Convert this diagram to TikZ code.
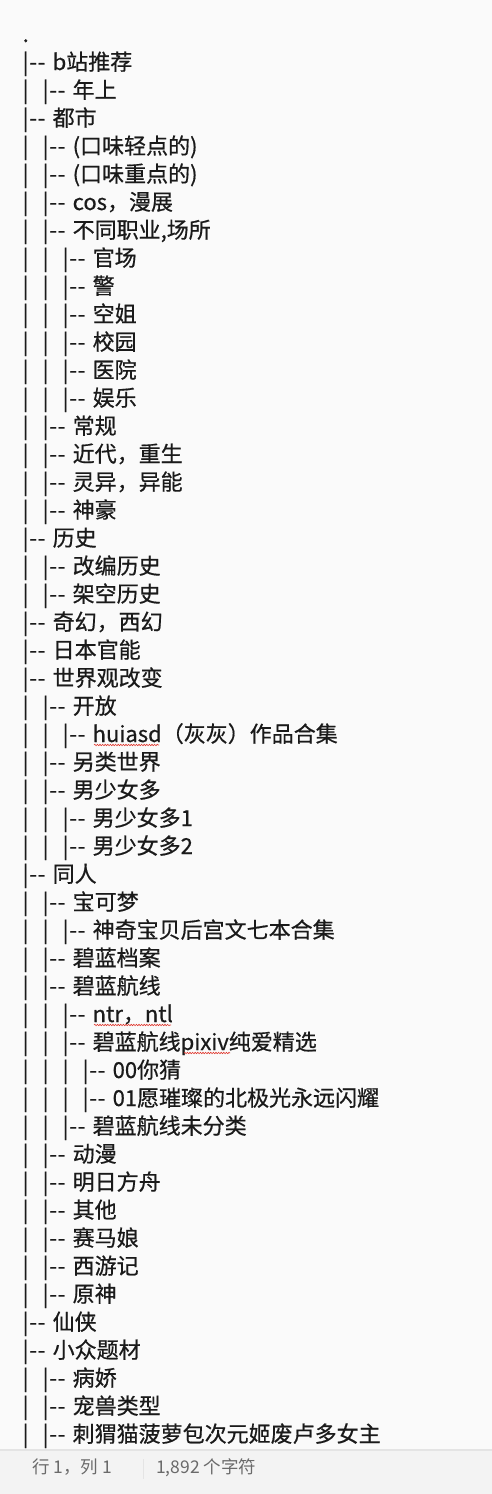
\documentclass[tikz,border=0pt]{standalone}
\usepackage{fontspec}
\newfontfamily\cjk[FakeBold=0.6]{Noto Sans CJK SC}
\newfontfamily\cjkst{Noto Sans CJK SC}
\usetikzlibrary{decorations.pathmorphing}
\definecolor{bgc}{HTML}{FAFAFA}
\definecolor{txt}{HTML}{1A1A1A}
\definecolor{barbg}{HTML}{F3F3F3}
\definecolor{barline}{HTML}{E4E4E4}
\definecolor{bartxt}{HTML}{6A6A6A}
\definecolor{sq}{HTML}{E0352B}
\newcommand\pp{\makebox[20pt][l]{|}}
\newcommand\br{\makebox[30pt][l]{|\hspace{0.8pt}-\hspace{0.6pt}-}}
\tikzset{
  tl/.style={anchor=base west, inner sep=0pt, font=\cjk\fontsize{22}{26}\selectfont, text=txt},
  st/.style={anchor=base west, inner sep=0pt, font=\cjkst\fontsize{17.5}{20}\selectfont, text=bartxt},
  squig/.style={draw=sq, line width=0.6pt, decorate, decoration={snake, amplitude=0.7pt, segment length=2.6pt}}
}
\newcommand\TL[3]{\node[tl] (#1) at (22.5pt,{-(42+28*#2)*1pt}) {#3};}
\begin{document}
\begin{tikzpicture}
\useasboundingbox (0,0) rectangle (492pt,-1494pt);
\fill[bgc] (0,0) rectangle (492pt,-1494pt);
\TL{l0}{0}{.}
\TL{l1}{1}{\br b站推荐}
\TL{l2}{2}{\pp\br 年上}
\TL{l3}{3}{\br 都市}
\TL{l4}{4}{\pp\br (口味轻点的)}
\TL{l5}{5}{\pp\br (口味重点的)}
\TL{l6}{6}{\pp\br cos，漫展}
\TL{l7}{7}{\pp\br 不同职业,场所}
\TL{l8}{8}{\pp\pp\br 官场}
\TL{l9}{9}{\pp\pp\br 警}
\TL{l10}{10}{\pp\pp\br 空姐}
\TL{l11}{11}{\pp\pp\br 校园}
\TL{l12}{12}{\pp\pp\br 医院}
\TL{l13}{13}{\pp\pp\br 娱乐}
\TL{l14}{14}{\pp\br 常规}
\TL{l15}{15}{\pp\br 近代，重生}
\TL{l16}{16}{\pp\br 灵异，异能}
\TL{l17}{17}{\pp\br 神豪}
\TL{l18}{18}{\br 历史}
\TL{l19}{19}{\pp\br 改编历史}
\TL{l20}{20}{\pp\br 架空历史}
\TL{l21}{21}{\br 奇幻，西幻}
\TL{l22}{22}{\br 日本官能}
\TL{l23}{23}{\br 世界观改变}
\TL{l24}{24}{\pp\br 开放}
\TL{l25}{25}{\pp\pp\br huiasd（灰灰）作品合集}
\TL{l26}{26}{\pp\br 另类世界}
\TL{l27}{27}{\pp\br 男少女多}
\TL{l28}{28}{\pp\pp\br 男少女多1}
\TL{l29}{29}{\pp\pp\br 男少女多2}
\TL{l30}{30}{\br 同人}
\TL{l31}{31}{\pp\br 宝可梦}
\TL{l32}{32}{\pp\pp\br 神奇宝贝后宫文七本合集}
\TL{l33}{33}{\pp\br 碧蓝档案}
\TL{l34}{34}{\pp\br 碧蓝航线}
\TL{l35}{35}{\pp\pp\br ntr，ntl}
\TL{l36}{36}{\pp\pp\br 碧蓝航线pixiv纯爱精选}
\TL{l37}{37}{\pp\pp\pp\br 00你猜}
\TL{l38}{38}{\pp\pp\pp\br 01愿璀璨的北极光永远闪耀}
\TL{l39}{39}{\pp\pp\br 碧蓝航线未分类}
\TL{l40}{40}{\pp\br 动漫}
\TL{l41}{41}{\pp\br 明日方舟}
\TL{l42}{42}{\pp\br 其他}
\TL{l43}{43}{\pp\br 赛马娘}
\TL{l44}{44}{\pp\br 西游记}
\TL{l45}{45}{\pp\br 原神}
\TL{l46}{46}{\br 仙侠}
\TL{l47}{47}{\br 小众题材}
\TL{l48}{48}{\pp\br 病娇}
\TL{l49}{49}{\pp\br 宠兽类型}
\TL{l50}{50}{\pp\br 刺猬猫菠萝包次元姬废卢多女主}
% spell-check squiggles
\draw[squig] (94pt,-745pt) -- (159pt,-745pt);
\draw[squig] (94pt,-1025pt) -- (171pt,-1025pt);
\draw[squig] (184pt,-1053pt) -- (230pt,-1053pt);
% status bar
\fill[barbg] (0,-1450pt) rectangle (492pt,-1494pt);
\draw[barline, line width=1.2pt] (0,-1450pt) -- (492pt,-1450pt);
\node[st] (pos) at (32pt,-1473pt) {行 1，列 1};
\draw[barline, line width=1pt] (143pt,-1459pt) -- (143pt,-1479pt);
\node[st] (cnt) at (156pt,-1473pt) {1,892 个字符};
\end{tikzpicture}
\end{document}
